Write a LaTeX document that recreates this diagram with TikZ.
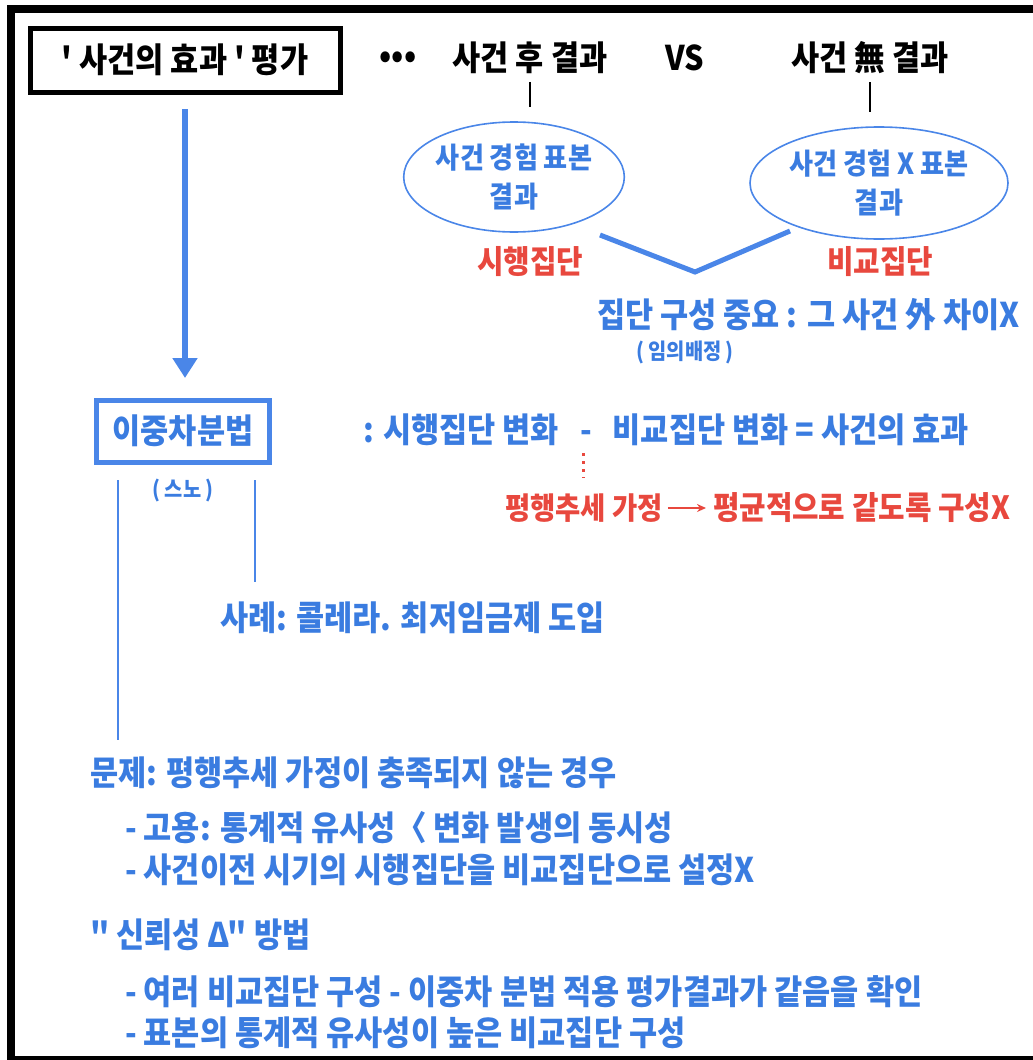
\documentclass[tikz,border=0pt]{standalone}
\usepackage{fontspec}
\newfontfamily\kr[FakeStretch=0.9]{Noto Sans CJK KR}
\usetikzlibrary{arrows.meta,shapes.geometric}
\definecolor{tblue}{RGB}{58,124,224}
\definecolor{lblue}{RGB}{74,134,232}
\definecolor{tred}{RGB}{232,72,62}
\begin{document}
\begin{tikzpicture}[x=1pt,y=-1pt,
  every node/.style={inner sep=0pt,outer sep=0pt},
  txt/.style={font=\kr\bfseries\fontsize{34}{40}\selectfont},
  txtr/.style={font=\kr\bfseries\fontsize{32}{38}\selectfont},
  small/.style={font=\kr\bfseries\fontsize{22}{26}\selectfont},
  btxt/.style={txt,text=tblue},
  rtxt/.style={txtr,text=tred},
  blkbox/.style={txt,draw=black,line width=5pt,minimum width=310pt,minimum height=64pt},
  bluebox/.style={btxt,draw=lblue,line width=5pt,minimum width=173pt,minimum height=62pt},
  ell/.style={ellipse,draw=lblue,line width=1.6pt,align=center,font=\kr\bfseries\fontsize{29}{39}\selectfont,text=tblue},
  tick/.style={draw=black,line width=2.5pt},
  bline/.style={draw=lblue,line width=2.5pt},
  vline/.style={draw=lblue,line width=5pt,line join=miter},
  bigarrow/.style={draw=lblue,line width=6pt,-{Triangle[width=24pt,length=20pt]}},
]
\useasboundingbox (0,0) rectangle (1033,1060);
% frame
\draw[line width=8pt] (11,1060) -- (11,9) -- (1040,9);
\draw[line width=4pt] (7,1058) -- (1040,1058);

% top row
\node[blkbox] (title) at (185,60) {' 사건의 효과 ' 평가};
\node[txt] (dots) at (398,60) {•••};
\node[txt] (after) at (530,58) {사건 후 결과};
\node[txt] (vs) at (685,58) {VS};
\node[txt] (none) at (870,58) {사건 無 결과};

% ellipses
\node[ell,minimum width=202pt,minimum height=110pt] (e1) at (514,177) {사건 경험 표본\\결과};
\node[ell,minimum width=258pt,minimum height=112pt] (e2) at (879,183) {사건 경험 X 표본\\결과};
\draw[tick] ([yshift=-8pt]after.south) -- ([yshift=15pt]after.south |- e1.north);
\draw[tick] ([yshift=-8pt]none.south) -- ([yshift=15pt]none.south |- e2.north);

\node[rtxt] (grpA) at (530,262) {시행집단};
\node[rtxt] (grpB) at (880,262) {비교집단};
\coordinate (v1) at (600,235);
\coordinate (vb) at (695,272);
\coordinate (v2) at (790,231);
\draw[vline] (v1) -- (vb) -- (v2);

\node[btxt,anchor=west] (imp) at (597,315) {집단 구성 중요 : 그 사건 外 차이X};
\node[small,text=tblue] (rand) at (685,352) {( 임의배정 )};

% left column
\node[bluebox] (dd) at (183,431) {이중차분법};
\draw[bigarrow] ([yshift=-17pt]title.south) -- ([yshift=22pt]title.south |- dd.north);
\node[small,text=tblue] (snow) at (183,490) {( 스노 )};
\coordinate (l1a) at (118,480);
\coordinate (l1b) at (118,740);
\coordinate (l2a) at (255,480);
\coordinate (l2b) at (255,582);
\draw[bline] (l1a) -- (l1b);
\draw[bline] (l2a) -- (l2b);

\node[btxt,anchor=west] (eq) at (363,430) {: 시행집단 변화 \ \ - \ \ 비교집단 변화 = 사건의 효과};
\coordinate (d1) at (583,453);
\coordinate (d2) at (583,478);
\draw[tred,line width=3pt,dash pattern=on 3pt off 5pt] (d1) -- (d2);
\node[rtxt,anchor=west,font=\kr\bfseries\fontsize{30.5}{36}\selectfont] (pa) at (505,508) {평행추세 가정};
\node[rtxt,anchor=west] (pb) at (713,508) {평균적으로 같도록 구성X};
\draw[tred,line width=2pt,-{Stealth[length=9pt,width=8pt]}] ([xshift=5pt]pa.east) -- ([xshift=-7pt]pb.west);

\node[btxt,anchor=west] (case) at (220,618) {사례: 콜레라. 최저임금제 도입};
\node[btxt,anchor=west] (prob) at (90,773) {문제: 평행추세 가정이 충족되지 않는 경우};
\node[btxt,anchor=west] (p1) at (125,828) {- 고용: 통계적 유사성〈 변화 발생의 동시성};
\node[btxt,anchor=west] (p2) at (125,870) {- 사건이전 시기의 시행집단을 비교집단으로 설정X};
\node[btxt,anchor=west] (rel) at (90,935) {" 신뢰성 Δ" 방법};
\node[btxt,anchor=west] (r1) at (125,992) {- 여러 비교집단 구성 - 이중차 분법 적용 평가결과가 같음을 확인};
\node[btxt,anchor=west] (r2) at (125,1033) {- 표본의 통계적 유사성이 높은 비교집단 구성};
\end{tikzpicture}
\end{document}
